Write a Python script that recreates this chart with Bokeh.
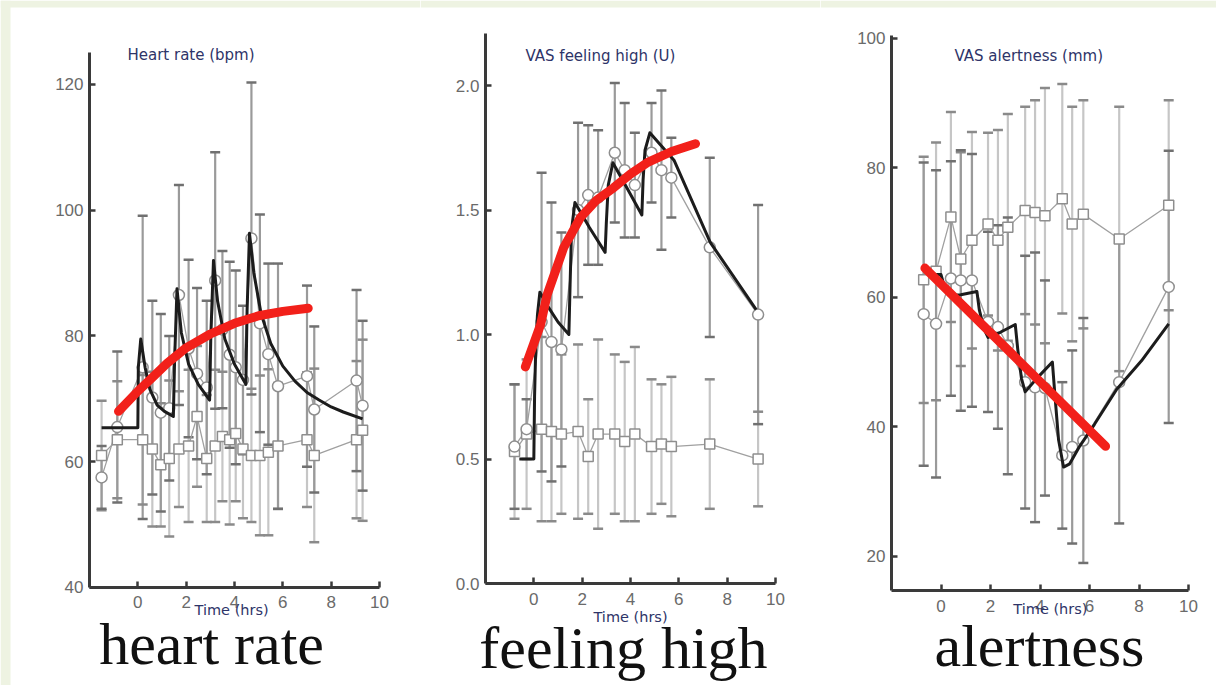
from bokeh.plotting import figure
from bokeh.layouts import row
from bokeh.models import (Range1d, ColumnDataSource, Label, FixedTicker,
                          NumeralTickFormatter, BoxAnnotation)
from bokeh.embed import file_html
from bokeh.resources import INLINE

# ---------------- Heart rate (bpm) ----------------
hr_t = [-1.5, -0.85, 0.2, 0.6, 0.95, 1.3, 1.7, 2.1, 2.45, 2.85, 3.2, 3.5, 3.8, 4.05,
        4.35, 4.7, 5.05, 5.4, 5.8, 7.0, 7.3, 9.05, 9.3]
hr_drug = [57.5, 65.5, 75.0, 70.2, 67.8, 68.5, 86.5, 78.0, 74.0, 71.8, 88.8, 81.0, 77.0, 75.0,
           73.0, 95.5, 82.0, 77.1, 72.0, 73.6, 68.3, 72.9, 68.9]
hr_drug_sd = [5.0, 12.0, 24.1, 15.4, 15.7, 11.5, 17.5, 14.1, 13.6, 13.8, 20.4, 12.5, 14.8, 15.4,
              11.8, 24.8, 17.3, 14.4, 19.5, 14.4, 13.2, 14.4, 13.5]
hr_pla = [61.0, 63.5, 63.5, 62.0, 59.5, 60.5, 62.0, 62.5, 67.2, 60.5, 62.5, 64.0, 63.5, 64.5,
          62.0, 61.0, 61.0, 61.5, 62.5, 63.5, 61.0, 63.5, 65.0]
hr_pla_sd = [8.7, 9.3, 10.3, 12.3, 9.8, 12.4, 9.2, 12.1, 11.2, 10.1, 12.1, 10.3, 13.5, 10.8,
             11.0, 10.6, 12.7, 13.2, 10.0, 10.7, 13.8, 12.5, 14.4]
hr_model_t = [-1.5, 0.0, 0.02, 0.12, 0.3, 0.5, 0.8, 1.1, 1.47, 1.52, 1.62, 1.8, 2.1, 2.5, 2.97,
              3.02, 3.13, 3.3, 3.6, 4.0, 4.47, 4.52, 4.62, 4.8, 5.1, 5.5, 6.0, 6.5, 7.0, 7.5,
              8.0, 8.5, 9.3]
hr_model_v = [65.4, 65.4, 75.0, 79.5, 75.0, 71.5, 69.0, 68.0, 67.2, 76.0, 87.5, 80.5, 75.5, 72.3,
              69.8, 80.0, 92.0, 85.5, 79.5, 75.5, 72.3, 84.0, 96.3, 90.0, 83.5, 78.8, 75.2, 72.8,
              71.0, 69.8, 68.7, 67.9, 66.8]
hr_trend_t = [-0.8, 0.0, 0.6, 1.2, 2.0, 3.0, 4.0, 5.0, 6.0, 7.05]
hr_trend_v = [68.0, 71.2, 73.4, 75.6, 78.1, 80.3, 82.0, 83.2, 83.9, 84.4]
hr_yticks = [40, 60, 80, 100, 120]

# ---------------- VAS feeling high (U) ----------------
fh_t = [-0.8, -0.3, 0.32, 0.73, 1.14, 1.83, 2.25, 2.66, 3.35, 3.76, 4.18, 4.87, 5.28, 5.69,
        7.28, 9.28]
fh_drug = [0.55, 0.62, 1.05, 0.97, 0.94, 1.50, 1.56, 1.55, 1.73, 1.66, 1.60, 1.73, 1.66, 1.63,
           1.35, 1.08]
fh_drug_sd = [0.25, 0.12, 0.60, 0.56, 0.47, 0.35, 0.28, 0.27, 0.28, 0.27, 0.21, 0.20, 0.32, 0.16,
              0.36, 0.44]
fh_pla = [0.53, 0.60, 0.62, 0.61, 0.60, 0.61, 0.51, 0.60, 0.60, 0.57, 0.60, 0.55, 0.56, 0.55,
          0.56, 0.50]
fh_pla_sd = [0.27, 0.30, 0.37, 0.36, 0.32, 0.35, 0.23, 0.38, 0.32, 0.32, 0.35, 0.27, 0.24, 0.28,
             0.26, 0.19]
fh_model_t = [-0.6, 0.0, 0.03, 0.08, 0.15, 0.25, 0.6, 1.0, 1.45, 1.5, 1.56, 1.7, 2.3, 2.95, 3.0,
              3.08, 3.27, 3.9, 4.47, 4.52, 4.6, 4.8, 5.8, 7.3, 9.2]
fh_model_v = [0.50, 0.50, 0.75, 0.95, 1.08, 1.17, 1.11, 1.05, 1.00, 1.20, 1.42, 1.53, 1.43, 1.33,
              1.45, 1.60, 1.69, 1.58, 1.48, 1.62, 1.74, 1.81, 1.70, 1.37, 1.10]
fh_trend_t = [-0.35, 0.28, 0.55, 1.24, 1.93, 2.6, 3.31, 4.0, 4.69, 5.7, 6.69]
fh_trend_v = [0.87, 1.04, 1.16, 1.35, 1.47, 1.54, 1.59, 1.645, 1.69, 1.735, 1.766]
fh_yticks = [0.0, 0.5, 1.0, 1.5, 2.0]

# ---------------- VAS alertness (mm) ----------------
al_t = [-0.7, -0.2, 0.4, 0.8, 1.25, 1.9, 2.3, 2.7, 3.4, 3.8, 4.2, 4.9, 5.3, 5.75, 7.2, 9.2]
al_drug = [57.4, 55.9, 62.9, 62.6, 62.6, 56.2, 55.4, 52.5, 46.9, 46.1, 46.0, 35.6, 36.9, 37.9,
           46.9, 61.6]
al_drug_sd = [23.4, 23.7, 18.1, 20.1, 19.5, 13.9, 15.7, 19.8, 19.5, 20.8, 16.6, 11.3, 14.9, 18.9,
              21.8, 21.0]
al_pla = [62.7, 64.0, 72.4, 65.9, 68.8, 71.3, 68.8, 70.8, 73.4, 73.1, 72.6, 75.2, 71.3, 72.8,
          69.0, 74.2]
al_pla_sd = [19.0, 19.9, 16.2, 16.5, 16.7, 14.1, 17.0, 17.5, 16.0, 17.3, 19.7, 17.7, 18.1, 17.6,
             20.4, 16.2]
al_model_t = [-0.3, 0.0, 0.15, 0.4, 0.8, 1.45, 1.55, 1.75, 1.9, 2.4, 3.0, 3.1, 3.25, 3.4, 3.9,
              4.5, 4.6, 4.75, 4.95, 5.2, 5.6, 6.2, 7.1, 8.1, 9.2]
al_model_v = [63.5, 63.5, 61.5, 60.3, 60.4, 60.9, 58.0, 55.0, 53.8, 54.6, 55.8, 52.0, 47.5, 45.4,
              47.6, 50.0, 45.0, 38.0, 33.8, 34.3, 37.0, 40.4, 45.8, 50.2, 55.9]
al_trend_t = [-0.65, 6.65]
al_trend_v = [64.5, 37.0]
al_yticks = [20, 40, 60, 80, 100]

x_ticks = [0, 2, 4, 6, 8, 10]
x_bounds = (-2, 10)

TICK_FONT = "Liberation Sans"
SMALL_FONT = "DejaVu Sans"
BIG_FONT = "Liberation Serif"
NAVY = "#2e3468"
SLIDE_GREEN = "#eef3e2"


def make_panel(width, x_rng, y_rng, y_bounds, y_ticks, t, drug, drug_sd, pla, pla_sd,
               mt, mv, rt, rv, title, title_xy, time_xy, big, big_xy, top_strip,
               left_strip=None, fmt=None):
    p = figure(width=width, height=685, x_range=Range1d(*x_rng), y_range=Range1d(*y_rng),
               output_backend="svg", toolbar_location=None,
               min_border_left=0, min_border_right=0, min_border_top=0, min_border_bottom=0)
    p.title.visible = False
    p.grid.visible = False
    p.outline_line_color = None
    p.background_fill_color = "white"
    p.border_fill_color = "white"

    # slide background strips
    p.add_layout(BoxAnnotation(bottom=top_strip, fill_color=SLIDE_GREEN, fill_alpha=1.0,
                               line_color=None, level="underlay"))
    if left_strip is not None:
        p.add_layout(BoxAnnotation(right=left_strip, fill_color=SLIDE_GREEN, fill_alpha=1.0,
                                   line_color=None, level="underlay"))

    p.xaxis.ticker = FixedTicker(ticks=x_ticks)
    p.yaxis.ticker = FixedTicker(ticks=y_ticks)
    p.xaxis.fixed_location = y_bounds[0]
    p.yaxis.fixed_location = x_bounds[0]
    p.xaxis.bounds = x_bounds
    p.yaxis.bounds = y_bounds
    if fmt:
        p.yaxis.formatter = NumeralTickFormatter(format=fmt)
    for ax in (p.xaxis, p.yaxis):
        ax.axis_line_width = 3
        ax.axis_line_color = "#3a3a3a"
        ax.major_tick_in = 6
        ax.major_tick_out = 0
        ax.minor_tick_in = 0
        ax.minor_tick_out = 0
        ax.major_tick_line_width = 2.5
        ax.major_tick_line_color = "#3a3a3a"
        ax.major_label_text_font = TICK_FONT
        ax.major_label_text_font_size = "17px"
        ax.major_label_text_color = "#6a6a6a"
    p.yaxis.major_label_standoff = 6
    p.xaxis.major_label_standoff = 9

    d_lo = [m - s for m, s in zip(drug, drug_sd)]
    d_hi = [m + s for m, s in zip(drug, drug_sd)]
    p_lo = [m - s for m, s in zip(pla, pla_sd)]
    p_hi = [m + s for m, s in zip(pla, pla_sd)]
    src = ColumnDataSource(dict(t=t, drug=drug, pla=pla, d_lo=d_lo, d_hi=d_hi,
                                p_lo=p_lo, p_hi=p_hi))

    # error bars
    p.segment(x0="t", y0="p_lo", x1="t", y1="p_hi", source=src, line_color="#c6c6c6", line_width=2.2)
    p.segment(x0="t", y0="d_lo", x1="t", y1="d_hi", source=src, line_color="#9a9a9a", line_width=2.2)
    for col, c in (("p_lo", "#8a8a8a"), ("p_hi", "#8a8a8a"), ("d_lo", "#707070"), ("d_hi", "#707070")):
        p.scatter(x="t", y=col, source=src, marker="dash", size=10, line_width=2.5, line_color=c)

    # observed means
    p.line(x="t", y="pla", source=src, line_color="#a0a0a0", line_width=1.3)
    p.line(x="t", y="drug", source=src, line_color="#a0a0a0", line_width=1.3)
    p.scatter(x="t", y="pla", source=src, marker="square", size=10, fill_color="white",
              line_color="#8e8e8e", line_width=1.5)
    p.scatter(x="t", y="drug", source=src, marker="circle", size=11, fill_color="white",
              line_color="#8e8e8e", line_width=1.5)

    # model curve
    p.line(x=mt, y=mv, line_color="#1c1c1c", line_width=3, line_join="round")
    # trend
    p.line(x=rt, y=rv, line_color="#f2201a", line_width=9, line_cap="round")

    p.add_layout(Label(x=title_xy[0], y=title_xy[1], text=title, text_font=SMALL_FONT,
                       text_font_size="15px", text_color=NAVY, text_align="left",
                       text_baseline="middle"))
    p.add_layout(Label(x=time_xy[0], y=time_xy[1], text="Time (hrs)", text_font=SMALL_FONT,
                       text_font_size="14.5px", text_color=NAVY, text_align="center",
                       text_baseline="middle"))
    p.add_layout(Label(x=big_xy[0], y=big_xy[1], text=big, text_font=BIG_FONT,
                       text_font_size="60px", text_color="#111111", text_align="center",
                       text_baseline="alphabetic"))
    return p


p1 = make_panel(420, (-5.683, 11.696), (24.42, 133.32), (40, 125.05), hr_yticks,
                hr_t, hr_drug, hr_drug_sd, hr_pla, hr_pla_sd,
                hr_model_t, hr_model_v, hr_trend_t, hr_trend_v,
                "Heart rate (bpm)", (-0.43, 124.58), (3.88, 36.5), "heart rate", (3.05, 30.94),
                top_strip=132.21, left_strip=-5.269)
p2 = make_panel(400, (-4.69, 11.862), (-0.4096, 2.3414), (0, 2.209), fh_yticks,
                fh_t, fh_drug, fh_drug_sd, fh_pla, fh_pla_sd,
                fh_model_t, fh_model_v, fh_trend_t, fh_trend_v,
                "VAS feeling high (U)", (-0.345, 2.1205), (4.0, -0.1365), "feeling high",
                (3.71, -0.261), top_strip=2.3133, fmt="0.0")
p3 = make_panel(396, (-4.869, 11.131), (0.09, 105.8), (14.75, 100.4), al_yticks,
                al_t, al_drug, al_drug_sd, al_pla, al_pla_sd,
                al_model_t, al_model_v, al_trend_t, al_trend_v,
                "VAS alertness (mm)", (0.545, 97.31), (4.42, 11.82), "alertness", (3.98, 6.11),
                top_strip=104.72)

layout = row(p1, p2, p3)
open("out.html", "w").write(file_html(layout, INLINE))
